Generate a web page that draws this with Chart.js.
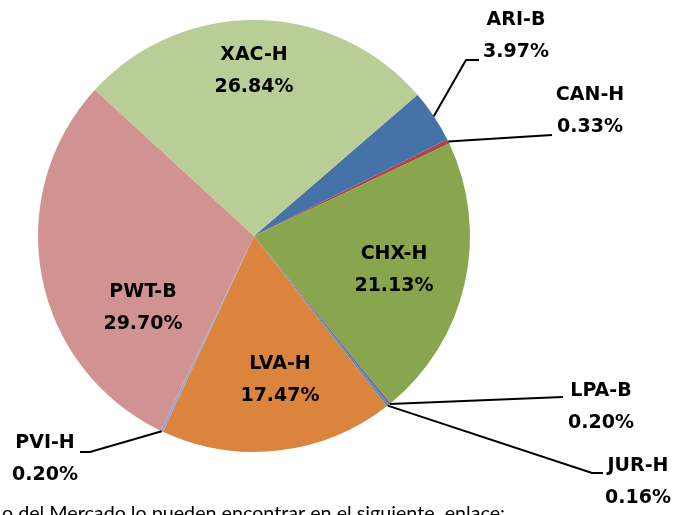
<!DOCTYPE html>
<html>
<head>
<meta charset="utf-8">
<script src="https://cdn.jsdelivr.net/npm/chart.js@4.4.1/dist/chart.umd.min.js"></script>
<style>
    html, body { margin: 0; padding: 0; background: #fff; overflow: hidden; }
    canvas { display: block; }
</style>
</head>
<body>
<canvas id="pie" width="677" height="515"></canvas>
<script>
// slices, clockwise from the ARI-B edge
const labels = ['ARI-B', 'CAN-H', 'CHX-H', 'LPA-B', 'JUR-H', 'LVA-H', 'PVI-H', 'PWT-B', 'XAC-H'];
const shares = [3.97, 0.33, 21.13, 0.20, 0.16, 17.47, 0.20, 29.70, 26.84];
const colors = ['#4572a7', '#aa4643', '#89a54e', '#80699b', '#3d96ae', '#db843d', '#92a8cd', '#d19392', '#b9cd96'];
const footnote = 'o del Mercado lo pueden encontrar en el siguiente  enlace:';

// label block centre and leader elbows, as offsets from the pie centre
const placement = [
    { at: [262, -200], line: [[212, -176], [225, -176]] },
    { at: [336, -125], line: [[298, -101]] },
    { at: [140, 34] },
    { at: [347, 171], line: [[309, 161]] },
    { at: [384, 246], line: [[338, 237], [349, 237]] },
    { at: [26, 144] },
    { at: [-209, 223], line: [[-164, 216], [-174, 216]] },
    { at: [-111, 72] },
    { at: [0, -165] },
];

const labelPlugin = {
    id: 'sliceLabels',
    afterDatasetsDraw(chart) {
        const ctx = chart.ctx;
        const arcs = chart.getDatasetMeta(0).data;
        ctx.save();
        arcs.forEach((arc, i) => {
            const p = placement[i];
            const cx = arc.x, cy = arc.y;
            if (p.line) {
                const mid = (arc.startAngle + arc.endAngle) / 2;
                ctx.beginPath();
                ctx.moveTo(cx + Math.cos(mid) * arc.outerRadius, cy + Math.sin(mid) * arc.outerRadius);
                p.line.forEach(pt => ctx.lineTo(cx + pt[0], cy + pt[1]));
                ctx.lineWidth = 2;
                ctx.strokeStyle = '#000';
                ctx.stroke();
            }
            ctx.fillStyle = '#000';
            ctx.font = 'bold 19px "DejaVu Sans"';
            ctx.textAlign = 'center';
            ctx.textBaseline = 'middle';
            ctx.fillText(labels[i], cx + p.at[0], cy + p.at[1] - 16);
            ctx.fillText(shares[i].toFixed(2) + '%', cx + p.at[0], cy + p.at[1] + 16);
        });
        ctx.font = '19.7px Lato';
        ctx.textAlign = 'left';
        ctx.textBaseline = 'alphabetic';
        ctx.fillText(footnote, 2, 520);
        ctx.restore();
    }
};

new Chart(document.getElementById('pie'), {
    type: 'pie',
    data: {
        labels,
        datasets: [{ data: shares, backgroundColor: colors, borderWidth: 0 }],
    },
    options: {
        responsive: false,
        animation: false,
        rotation: 49.2,
        layout: { padding: { left: 38, top: 20, right: 207, bottom: 63 } },
        plugins: { legend: { display: false }, tooltip: { enabled: false } },
    },
    plugins: [labelPlugin],
});
</script>
</body>
</html>
